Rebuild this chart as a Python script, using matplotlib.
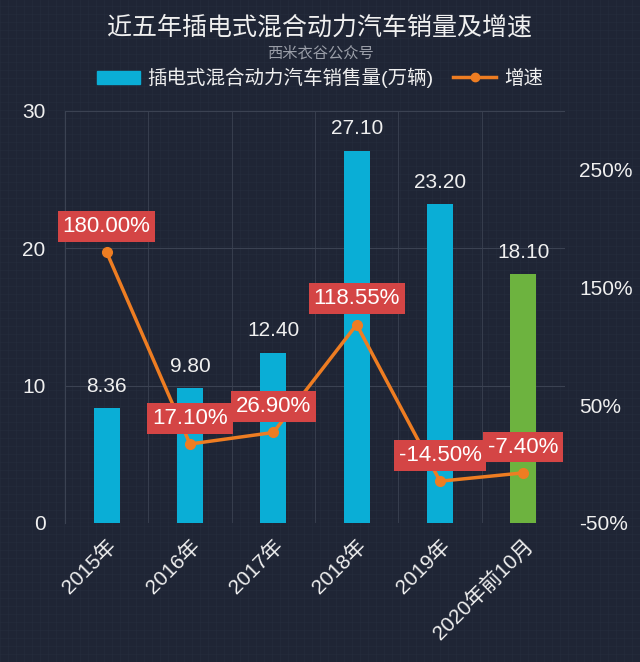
import numpy as np
import matplotlib
matplotlib.use('Agg')
from matplotlib import pyplot as plt
from matplotlib.lines import Line2D
from matplotlib.patches import Patch

plt.rcParams['font.family'] = ['Liberation Sans', 'Noto Sans CJK SC']

categories = ['2015年', '2016年', '2017年', '2018年', '2019年', '2020年前10月']
sales = [8.36, 9.80, 12.40, 27.10, 23.20, 18.10]
growth = [180.00, 17.10, 26.90, 118.55, -14.50, -7.40]
growth_labels = ['180.00%', '17.10%', '26.90%', '118.55%', '-14.50%', '-7.40%']
left_ticks = [0, 10, 20, 30]
right_ticks = [-50, 50, 150, 250]

bg = '#1f2535'
cyan = '#0aaed6'
green = '#6db33f'
orange = '#ee7d22'
red = '#d44545'
txt = '#f0f0f0'
gridc = '#3b4252'

fig = plt.figure(figsize=(6.4, 6.62), dpi=100, facecolor=bg)

# graph-paper texture over the background
for v in np.arange(0, 1, 8 / 640):
    fig.add_artist(Line2D([v, v], [0, 1], color='#2a3142', lw=0.5, alpha=0.5, zorder=-10))
for v in np.arange(0, 1, 8 / 662):
    fig.add_artist(Line2D([0, 1], [v, v], color='#2a3142', lw=0.5, alpha=0.5, zorder=-10))

ax = fig.add_axes([65 / 640, 139 / 662, 500 / 640, 412 / 662])
ax.set_facecolor('none')
x = np.arange(len(categories))
colors = [cyan] * 5 + [green]
bars = ax.bar(x, sales, width=0.31, color=colors, zorder=3)
ax.set_xlim(-0.5, len(categories) - 0.5)
ax.set_ylim(0, 30)
ax.set_yticks(left_ticks)
ax.set_xticks(x)
ax.set_xticklabels(categories, rotation=45, ha='right', rotation_mode='anchor')
ax.tick_params(axis='both', colors=txt, labelsize=15, length=0, pad=9)
ax.tick_params(axis='y', pad=14)
for s in ['top', 'right', 'bottom']:
    ax.spines[s].set_visible(False)
ax.spines['left'].set_color(gridc)
ax.grid(axis='y', color=gridc, lw=0.8, zorder=0)
for b in np.arange(-0.5, len(categories), 1):
    ax.axvline(b, color=gridc, lw=0.6, zorder=0)

for xi, v in zip(x, sales):
    ax.annotate(f'{v:.2f}', (xi, v), xytext=(0, 9), textcoords='offset points',
                ha='center', va='bottom', color=txt, fontsize=15, zorder=6)

ax2 = ax.twinx()
ax2.set_ylim(-50, 300)
ax2.set_yticks(right_ticks)
ax2.set_yticklabels([f'{t}%' for t in right_ticks])
ax2.tick_params(axis='y', colors=txt, labelsize=15, length=0, pad=10)
for s in ax2.spines.values():
    s.set_visible(False)
ax2.plot(x, growth, color=orange, lw=2.5, marker='o', ms=7, zorder=4)

for xi, v, lab in zip(x, growth, growth_labels):
    ax2.annotate(lab, (xi, v), xytext=(0, 11), textcoords='offset points',
                 ha='center', va='bottom', color='white', fontsize=16, zorder=7,
                 bbox=dict(boxstyle='square,pad=0.22', fc=red, ec='none'))

fig.text(0.5, 1 - 28 / 662, '近五年插电式混合动力汽车销量及增速', ha='center', va='center',
         color=txt, fontsize=18)
fig.text(0.5, 1 - 53 / 662, '西米衣谷公众号', ha='center', va='center',
         color='#9a9ea8', fontsize=11)

handles = [Patch(color=cyan), Line2D([], [], color=orange, lw=2.5, marker='o', ms=6)]
fig.legend(handles, ['插电式混合动力汽车销售量(万辆)', '增速'], loc='center',
           bbox_to_anchor=(0.5, 1 - 78 / 662), ncol=2, frameon=False, fontsize=14,
           labelcolor=txt, handlelength=2.2, handletextpad=0.4, columnspacing=1.0)

fig.savefig('out.png', dpi=100, facecolor=bg)
